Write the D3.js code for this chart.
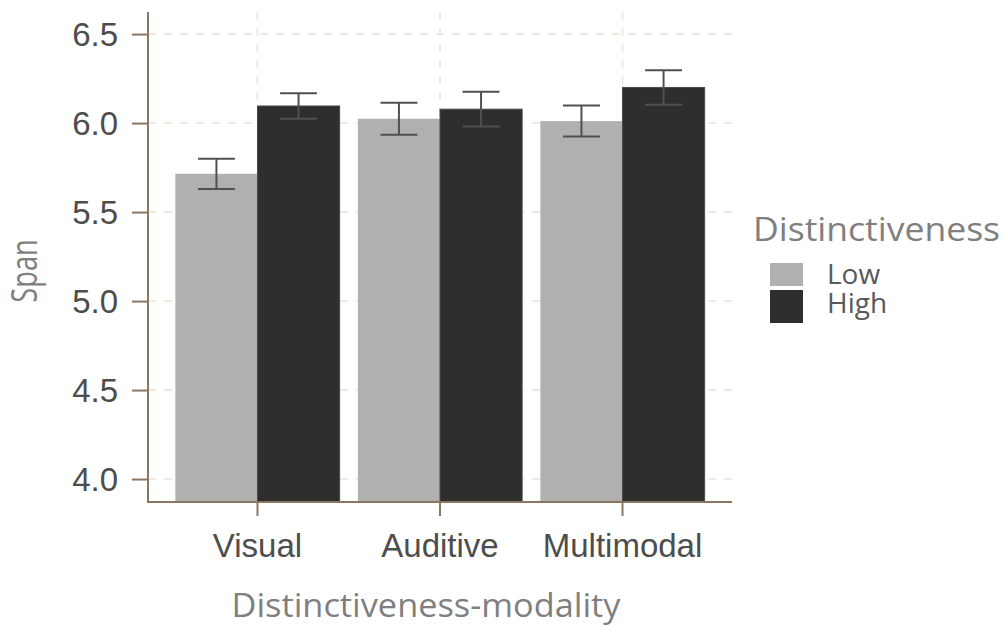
<!DOCTYPE html>
<html><head><meta charset="utf-8">
<script src="https://cdn.jsdelivr.net/npm/d3@7"></script>
<style>body{margin:0;background:#fff}svg{display:block}</style>
</head><body><svg id="c" width="1003" height="628"></svg>
<script>
const categories = ["Visual", "Auditive", "Multimodal"];
const groups = ["Low", "High"];
const lowMeans = [5.715, 6.024, 6.011];
const highMeans = [6.096, 6.078, 6.200];
const lowErr = [0.085, 0.090, 0.087];
const highErr = [0.072, 0.098, 0.097];
const yTicks = [4.0, 4.5, 5.0, 5.5, 6.0, 6.5];
const colors = ["#b0b0b0", "#2e2e2e"];

const svg = d3.select("#c");
const L = 148, R = 732, T = 12, B = 502;
const x = d3.scaleBand().domain(categories).range([L, R]).paddingInner(0.1).paddingOuter(0.15);
const xi = d3.scaleBand().domain(groups).range([0, x.bandwidth()]);
const y = d3.scaleLinear().domain([3.871, 6.624]).range([B, T]);

const data = [];
categories.forEach((c, i) => {
  data.push({cat: c, g: "Low", v: lowMeans[i], e: lowErr[i]});
  data.push({cat: c, g: "High", v: highMeans[i], e: highErr[i]});
});
const color = d3.scaleOrdinal().domain(groups).range(colors);

// grid
const grid = svg.append("g").attr("stroke", "#efe2d6").attr("stroke-width", 1.5).attr("stroke-dasharray", "8,8");
grid.selectAll("line.h").data(yTicks).join("line")
  .attr("x1", L).attr("x2", R).attr("y1", d => y(d)).attr("y2", d => y(d));
grid.selectAll("line.v").data(categories).join("line")
  .attr("x1", d => x(d) + x.bandwidth() / 2).attr("x2", d => x(d) + x.bandwidth() / 2)
  .attr("y1", T).attr("y2", B);

// bars
svg.append("g").selectAll("rect").data(data).join("rect")
  .attr("x", d => x(d.cat) + xi(d.g))
  .attr("width", xi.bandwidth())
  .attr("y", d => y(d.v))
  .attr("height", d => B - y(d.v))
  .attr("fill", d => color(d.g))
  .attr("stroke", d => d.g === "High" ? "#4a4a4a" : "none")
  .attr("stroke-width", 1);

// error bars
const eb = svg.append("g").attr("stroke", "#505050").attr("stroke-width", 2).attr("fill", "none");
const capW = xi.bandwidth() * 0.45;
data.forEach(d => {
  const cx = x(d.cat) + xi(d.g) + xi.bandwidth() / 2;
  eb.append("line").attr("x1", cx).attr("x2", cx).attr("y1", y(d.v + d.e)).attr("y2", y(d.v - d.e));
  eb.append("line").attr("x1", cx - capW / 2).attr("x2", cx + capW / 2).attr("y1", y(d.v + d.e)).attr("y2", y(d.v + d.e));
  eb.append("line").attr("x1", cx - capW / 2).attr("x2", cx + capW / 2).attr("y1", y(d.v - d.e)).attr("y2", y(d.v - d.e));
});

// axes
const axCol = "#8c7660";
const yAxis = svg.append("g").attr("transform", `translate(${L},0)`)
  .call(d3.axisLeft(y).tickValues(yTicks).tickFormat(d3.format(".1f")).tickSize(16).tickPadding(14));
yAxis.select(".domain").remove();
yAxis.selectAll(".tick line").attr("stroke", axCol).attr("stroke-width", 2);
yAxis.selectAll(".tick text").attr("fill", "#4d4d4d").style("font-family", "'Liberation Sans', Arial, sans-serif").style("font-size", "33px").attr("dy", "0.36em");
svg.append("line").attr("x1", L).attr("x2", L).attr("y1", T).attr("y2", B + 1).attr("stroke", axCol).attr("stroke-width", 2);

const xAxis = svg.append("g").attr("transform", `translate(0,${B})`)
  .call(d3.axisBottom(x).tickSize(14).tickPadding(10));
xAxis.select(".domain").remove();
xAxis.selectAll(".tick line").attr("stroke", axCol).attr("stroke-width", 2);
xAxis.selectAll(".tick text").attr("fill", "#4d4d4d").style("font-family", "'Liberation Sans', Arial, sans-serif").style("font-size", "33px").attr("dy", "0.95em");
svg.append("line").attr("x1", L - 1).attr("x2", R).attr("y1", B).attr("y2", B).attr("stroke", axCol).attr("stroke-width", 2);

// titles
const tf = "'Open Sans', 'Noto Sans', sans-serif";
svg.append("text").attr("x", 426).attr("y", 617).attr("text-anchor", "middle")
  .attr("fill", "#7f7f7f").style("font-family", tf).style("font-size", "32px")
  .attr("textLength", 389).attr("lengthAdjust", "spacingAndGlyphs")
  .text("Distinctiveness-modality");
svg.append("text").attr("transform", "translate(37,271) rotate(-90) scale(0.85,1.12)").attr("text-anchor", "middle")
  .attr("fill", "#7f7f7f").style("font-family", tf).style("font-size", "32px")
  .text("Span");

// legend
const lg = svg.append("g");
lg.append("text").attr("x", 753).attr("y", 241).attr("fill", "#7f7f7f")
  .style("font-family", tf).style("font-size", "32px")
  .attr("textLength", 247).attr("lengthAdjust", "spacingAndGlyphs")
  .text("Distinctiveness");
const keyY = {Low: [263, 23], High: [290, 33]};
lg.selectAll("rect").data(groups).join("rect")
  .attr("x", 770).attr("width", 33)
  .attr("y", d => keyY[d][0]).attr("height", d => keyY[d][1])
  .attr("fill", d => color(d));
lg.selectAll("text.lab").data(groups).join("text").attr("class", "lab")
  .attr("x", 827).attr("y", (d, i) => [284, 313][i])
  .attr("fill", "#595959").style("font-family", tf).style("font-size", "28px")
  .text(d => d);
</script></body></html>
